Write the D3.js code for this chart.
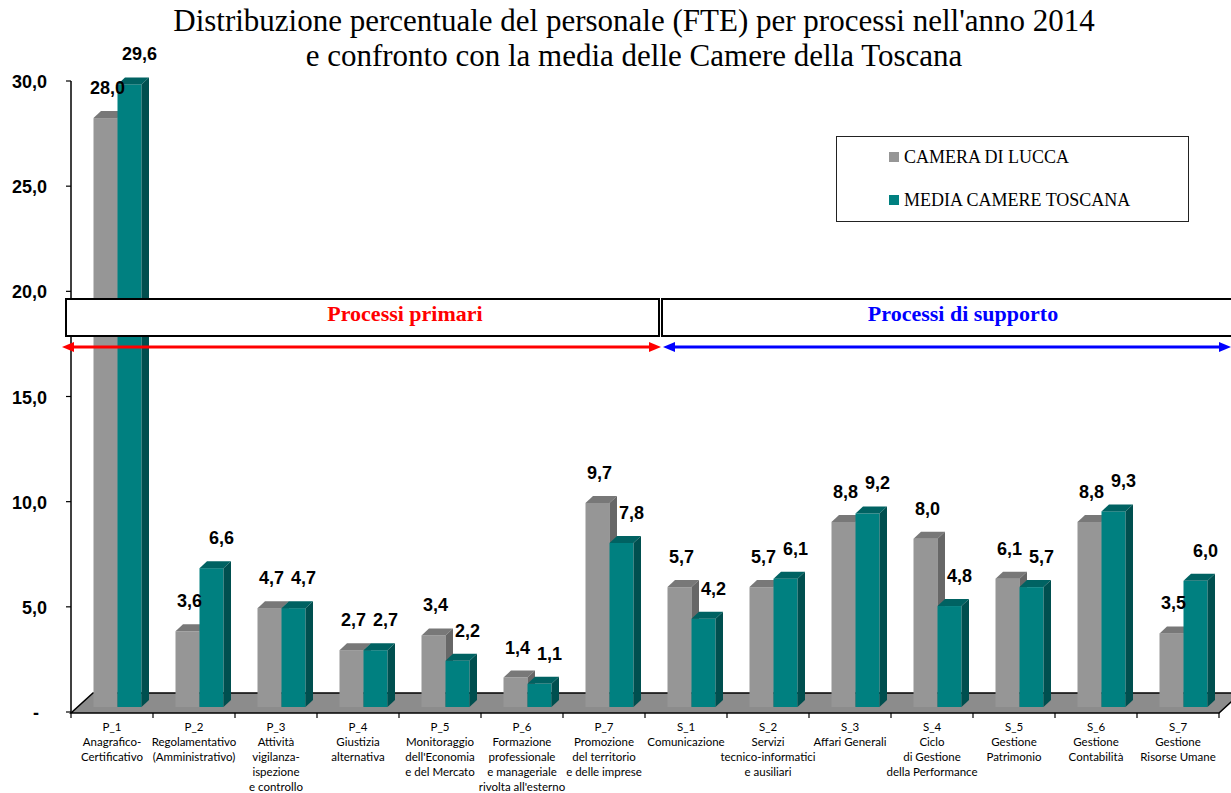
<!DOCTYPE html>
<html>
<head>
<meta charset="utf-8">
<script src="https://cdn.jsdelivr.net/npm/d3@7"></script>
<style>
  body { margin: 0; background: #fff; }
  svg { display: block; }
</style>
</head>
<body>
<div id="chart"></div>
<script>
var width_chart = 1231,
    height_chart = 793;

// data
var codes = ["P_1", "P_2", "P_3", "P_4", "P_5", "P_6", "P_7",
             "S_1", "S_2", "S_3", "S_4", "S_5", "S_6", "S_7"];
var names = [
  ["Anagrafico-", "Certificativo"],
  ["Regolamentativo", "(Amministrativo)"],
  ["Attività", "vigilanza-", "ispezione", "e controllo"],
  ["Giustizia", "alternativa"],
  ["Monitoraggio", "dell'Economia", "e del Mercato"],
  ["Formazione", "professionale", "e manageriale", "rivolta all'esterno"],
  ["Promozione", "del territorio", "e delle imprese"],
  ["Comunicazione"],
  ["Servizi", "tecnico-informatici", "e ausiliari"],
  ["Affari Generali"],
  ["Ciclo", "di Gestione", "della Performance"],
  ["Gestione", "Patrimonio"],
  ["Gestione", "Contabilità"],
  ["Gestione", "Risorse Umane"]
];
var lucca = [28.0, 3.6, 4.7, 2.7, 3.4, 1.4, 9.7, 5.7, 5.7, 8.8, 8.0, 6.1, 8.8, 3.5];
var media = [29.6, 6.6, 4.7, 2.7, 2.2, 1.1, 7.8, 4.2, 6.1, 9.2, 4.8, 5.7, 9.3, 6.0];
var seriesNames = ["CAMERA DI LUCCA", "MEDIA CAMERE TOSCANA"];
var yTicks = [0, 5, 10, 15, 20, 25, 30];
var groups = [
  { label: "Processi primari", color: "#ff0000" },
  { label: "Processi di supporto", color: "#0000ff" }
];

var colors = {
  lucca: { front: "#969696", top: "#787878", side: "#676767" },
  media: { front: "#008080", top: "#006262", side: "#004f4f" }
};

var svg = d3.select("#chart").append("svg")
    .attr("width", width_chart)
    .attr("height", height_chart);

var x = d3.scaleBand().domain(codes).range([71, 1219]).paddingInner(0).paddingOuter(0);
var y = d3.scaleLinear().domain([0, 30]).range([712, 81]);

// 3d geometry
var floorDx = 22, floorDy = -20;     // depth of the floor
var barDx = 7.5, barDy = -7;         // depth of a bar
var barShift = 5.5, barLift = 5;     // bars stand a bit inside the floor
var barW = 24;
var xs = d3.scaleBand().domain(["lucca", "media"])
    .range([0, barW * 2]);

var fmt = function(v) { return v.toFixed(1).replace(".", ","); };

// floor
var x0 = x.range()[0], x1 = x.range()[1], y0 = y(0) + 1;
svg.append("path")
  .attr("d", "M" + x0 + "," + y0 + "L" + x1 + "," + y0 +
             "L" + (x1 + floorDx) + "," + (y0 + floorDy) +
             "L" + (x0 + floorDx) + "," + (y0 + floorDy) + "Z")
  .style("fill", "#8c8c8c")
  .style("stroke", "#000")
  .style("stroke-width", 1.5);

// bars
var bars = [];
codes.forEach(function(c, i) {
  bars.push({ code: c, key: "lucca", v: lucca[i] });
  bars.push({ code: c, key: "media", v: media[i] });
});

function barGeom(d) {
  var bx = x(d.code) + (x.bandwidth() - barW * 2) / 2 + barShift + xs(d.key);
  var yb = y(0) - barLift;
  var yt = y(d.v) - barLift;
  return { bx: bx, yb: yb, yt: yt };
}

var barG = svg.append("g").selectAll("g")
  .data(bars)
  .enter().append("g");

barG.append("rect")
  .attr("x", function(d) { return barGeom(d).bx; })
  .attr("y", function(d) { return barGeom(d).yt; })
  .attr("width", barW)
  .attr("height", function(d) { var g = barGeom(d); return g.yb - g.yt; })
  .style("fill", function(d) { return colors[d.key].front; });

barG.append("path")
  .attr("d", function(d) {
    var g = barGeom(d);
    return "M" + g.bx + "," + g.yt + "L" + (g.bx + barW) + "," + g.yt +
           "L" + (g.bx + barW + barDx) + "," + (g.yt + barDy) +
           "L" + (g.bx + barDx) + "," + (g.yt + barDy) + "Z";
  })
  .style("fill", function(d) { return colors[d.key].top; });

barG.append("path")
  .attr("d", function(d) {
    var g = barGeom(d), r = g.bx + barW;
    return "M" + r + "," + g.yt + "L" + (r + barDx) + "," + (g.yt + barDy) +
           "L" + (r + barDx) + "," + (g.yb + barDy) + "L" + r + "," + g.yb + "Z";
  })
  .style("fill", function(d) { return colors[d.key].side; });

// value labels
svg.append("g").selectAll("text")
  .data(bars)
  .enter().append("text")
  .attr("x", function(d) {
    var g = barGeom(d);
    return g.bx + barW / 2 + (d.key == "lucca" ? 2 : 10);
  })
  .attr("y", function(d) { return barGeom(d).yt + barDy - 17; })
  .attr("text-anchor", "middle")
  .style("font", "bold 18px 'Liberation Sans', Arial, sans-serif")
  .style("fill", "#000")
  .text(function(d) { return fmt(d.v); });

// y axis
svg.append("line")
  .attr("x1", x0).attr("x2", x0)
  .attr("y1", y(30)).attr("y2", y(0) + 1)
  .style("stroke", "#000").style("stroke-width", 1.5);

svg.append("g").selectAll("line")
  .data(yTicks)
  .enter().append("line")
  .attr("x1", x0 - 5).attr("x2", x0)
  .attr("y1", function(d) { return y(d); })
  .attr("y2", function(d) { return y(d); })
  .style("stroke", "#000").style("stroke-width", 1.2);

svg.append("g").selectAll("text")
  .data(yTicks)
  .enter().append("text")
  .attr("x", function(d) { return d == 0 ? 36 : 47; })
  .attr("y", function(d) { return y(d) + 7; })
  .attr("text-anchor", function(d) { return d == 0 ? "middle" : "end"; })
  .style("font", "bold 18px 'Liberation Sans', Arial, sans-serif")
  .text(function(d) { return d == 0 ? "-" : fmt(d); });

// x axis ticks
var bounds = codes.map(function(c) { return x(c); }).concat([x1]);
svg.append("g").selectAll("line")
  .data(bounds)
  .enter().append("line")
  .attr("x1", function(d) { return d; }).attr("x2", function(d) { return d; })
  .attr("y1", y0).attr("y2", y0 + 5)
  .style("stroke", "#000").style("stroke-width", 1.2);

// category labels
var cat = svg.append("g").selectAll("text")
  .data(codes)
  .enter().append("text")
  .attr("text-anchor", "middle")
  .style("font", "11.5px Lato, 'Noto Sans', sans-serif")
  .style("fill", "#000");

cat.each(function(c, i) {
  var lines = [c].concat(names[i]);
  var t = d3.select(this);
  lines.forEach(function(l, j) {
    t.append("tspan")
      .attr("x", x(c) + x.bandwidth() / 2)
      .attr("y", 731 + j * 15)
      .text(l);
  });
});

// process boxes and arrows
var split = x("S_1") + 16;
var boxTop = 299, boxH = 37, arrowY = 347;
var boxes = [[66, split - 2], [split + 1, 1240]];
var arrows = [[62, split], [split + 2, 1231]];
var textX = [405, 963];
groups.forEach(function(g, i) {
  var b = boxes[i], a = arrows[i];
  svg.append("rect")
    .attr("x", b[0]).attr("y", boxTop)
    .attr("width", b[1] - b[0]).attr("height", boxH)
    .style("fill", "#fff").style("stroke", "#000").style("stroke-width", 2);
  svg.append("text")
    .attr("x", textX[i])
    .attr("y", boxTop + 22)
    .attr("text-anchor", "middle")
    .style("font", "bold 22px 'Liberation Serif', 'DejaVu Serif', serif")
    .style("fill", g.color)
    .text(g.label);

  svg.append("line")
    .attr("x1", a[0] + 10).attr("x2", a[1] - 10)
    .attr("y1", arrowY).attr("y2", arrowY)
    .style("stroke", g.color).style("stroke-width", 3);
  svg.append("path")
    .attr("d", "M" + a[0] + "," + arrowY + "l12,-5l0,10Z")
    .style("fill", g.color);
  svg.append("path")
    .attr("d", "M" + a[1] + "," + arrowY + "l-12,-5l0,10Z")
    .style("fill", g.color);
});

// legend
var legend = svg.append("g");
legend.append("rect")
  .attr("x", 836.5).attr("y", 136.5)
  .attr("width", 352).attr("height", 85)
  .style("fill", "#fff").style("stroke", "#222").style("stroke-width", 1);

["lucca", "media"].forEach(function(k, i) {
  legend.append("rect")
    .attr("x", 889).attr("y", 152 + i * 43)
    .attr("width", 10).attr("height", 10)
    .style("fill", colors[k].front);
  legend.append("text")
    .attr("x", 904).attr("y", 163 + i * 43)
    .style("font", "18px 'Liberation Serif', 'DejaVu Serif', serif")
    .style("fill", "#000")
    .text(seriesNames[i]);
});

// title
var title = svg.append("text")
  .attr("text-anchor", "middle")
  .style("font", "31px 'Liberation Serif', 'DejaVu Serif', serif")
  .style("fill", "#000");
title.append("tspan").attr("x", 634).attr("y", 31)
  .text("Distribuzione percentuale del personale (FTE) per processi nell'anno 2014");
title.append("tspan").attr("x", 634).attr("y", 66)
  .text("e confronto con la media delle Camere della Toscana");
</script>
</body>
</html>
